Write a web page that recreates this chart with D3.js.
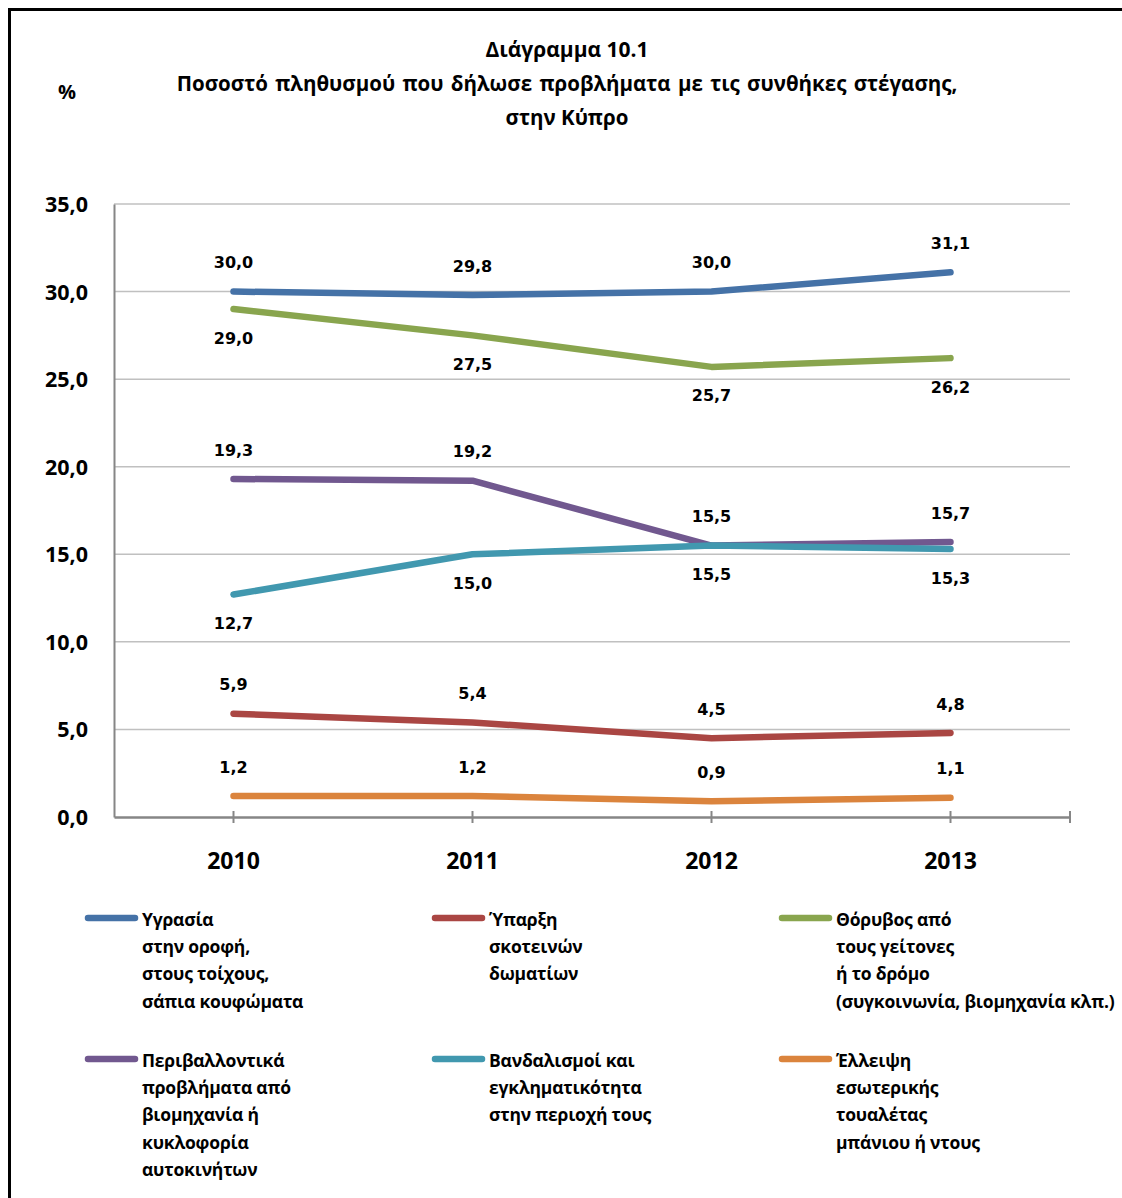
<!DOCTYPE html>
<html>
<head>
<meta charset="utf-8">
<script src="https://cdn.jsdelivr.net/npm/d3@7"></script>
<style>
  body { margin: 0; background: #fff; }
  text { font-family: "Open Sans", "Noto Sans", sans-serif; font-weight: bold; fill: #000; }
  .val { font-family: "DejaVu Sans", Verdana, sans-serif; font-size: 16px; }
</style>
</head>
<body>
<script>
// data
var years = ["2010", "2011", "2012", "2013"];
var yTicks = [0, 5, 10, 15, 20, 25, 30, 35];

var dampness   = [30.0, 29.8, 30.0, 31.1];
var darkRooms  = [5.9, 5.4, 4.5, 4.8];
var noise      = [29.0, 27.5, 25.7, 26.2];
var pollution  = [19.3, 19.2, 15.5, 15.7];
var crime      = [12.7, 15.0, 15.5, 15.3];
var noToilet   = [1.2, 1.2, 0.9, 1.1];

var seriesNames = [
  ["Υγρασία", "στην οροφή,", "στους τοίχους,", "σάπια κουφώματα"],
  ["Ύπαρξη", "σκοτεινών", "δωματίων"],
  ["Θόρυβος από", "τους γείτονες", "ή το δρόμο", "(συγκοινωνία, βιομηχανία κλπ.)"],
  ["Περιβαλλοντικά", "προβλήματα από", "βιομηχανία ή", "κυκλοφορία", "αυτοκινήτων"],
  ["Βανδαλισμοί και", "εγκληματικότητα", "στην περιοχή τους"],
  ["Έλλειψη", "εσωτερικής", "τουαλέτας", "μπάνιου ή ντους"]
];
var seriesValues = [dampness, darkRooms, noise, pollution, crime, noToilet];
var seriesColors = ["#4572a7", "#aa4643", "#89a54e", "#71588f", "#4198af", "#db843d"];
// label above (-1) or below (+1) the line
var labelSide = [-1, -1, 1, -1, 1, -1];

var W = 1122, H = 1198;
var svg = d3.select("body").append("svg")
    .attr("width", W)
    .attr("height", H);

// outer frame
svg.append("rect")
    .attr("x", 9.5).attr("y", 9.5)
    .attr("width", W + 10).attr("height", H + 10)
    .attr("fill", "none")
    .attr("stroke", "#000")
    .attr("stroke-width", 3);

// titles
svg.append("text").attr("x", 567).attr("y", 57).attr("text-anchor", "middle")
    .style("font-size", "21px").text("Διάγραμμα 10.1");
svg.append("text").attr("x", 567).attr("y", 91).attr("text-anchor", "middle")
    .style("font-size", "20.5px").style("word-spacing", "2px")
    .text("Ποσοστό πληθυσμού που δήλωσε προβλήματα με τις συνθήκες στέγασης,");
svg.append("text").attr("x", 567).attr("y", 125).attr("text-anchor", "middle")
    .style("font-size", "20.5px").text("στην Κύπρο");
svg.append("text").attr("x", 67).attr("y", 99).attr("text-anchor", "middle")
    .style("font-size", "20px").text("%");

var plot = {left: 114, right: 1070, top: 204, bottom: 817};

var x = d3.scaleBand().domain(years).range([plot.left, plot.right]);
var y = d3.scaleLinear().domain([0, 35]).range([plot.bottom, plot.top]);
var cx = function(d) { return x(d) + x.bandwidth() / 2; };

// gridlines
svg.append("g").selectAll("line")
    .data(yTicks.slice(1))
  .enter().append("line")
    .attr("x1", plot.left).attr("x2", plot.right)
    .attr("y1", function(d) { return y(d); })
    .attr("y2", function(d) { return y(d); })
    .attr("stroke", "#c0c0c0")
    .attr("stroke-width", 1.5);

// y axis
var yAxis = svg.append("g")
    .attr("transform", "translate(" + plot.left + ",0)")
    .call(d3.axisLeft(y).tickValues(yTicks).tickSize(0).tickPadding(26)
      .tickFormat(function(d) { return d3.format(".1f")(d).replace(".", ","); }));
yAxis.select(".domain").attr("stroke", "#868686").attr("stroke-width", 2);
yAxis.selectAll("text").style("font-size", "21.5px").attr("dy", "0.35em")
    .style("font-family", "'Open Sans', sans-serif");

// x axis
var xAxis = svg.append("g")
    .attr("transform", "translate(0," + plot.bottom + ")")
    .call(d3.axisBottom(x).tickSize(0).tickPadding(36));
xAxis.select(".domain").attr("stroke", "#868686").attr("stroke-width", 2.5);
xAxis.selectAll("text").style("font-size", "23px");
xAxis.selectAll("line.mk")
    .data(years.map(cx).concat([plot.right]))
  .enter().append("line")
    .attr("class", "mk")
    .attr("x1", function(d) { return d; }).attr("x2", function(d) { return d; })
    .attr("y1", -6).attr("y2", 6)
    .attr("stroke", "#868686").attr("stroke-width", 2);

// series lines
var line = d3.line()
    .x(function(d, i) { return cx(years[i]); })
    .y(function(d) { return y(d); });

seriesValues.forEach(function(vals, s) {
  svg.append("path")
      .datum(vals)
      .attr("d", line)
      .attr("fill", "none")
      .attr("stroke", seriesColors[s])
      .attr("stroke-width", 6.5)
      .attr("stroke-linecap", "round")
      .attr("stroke-linejoin", "round");
});

// value labels
seriesValues.forEach(function(vals, s) {
  svg.append("g").selectAll("text")
      .data(vals)
    .enter().append("text")
      .attr("class", "val")
      .attr("text-anchor", "middle")
      .attr("x", function(d, i) { return cx(years[i]); })
      .attr("y", function(d) { return y(d) + labelSide[s] * 29; })
      .attr("dy", "0.35em")
      .text(function(d) { return d3.format(".1f")(d).replace(".", ","); });
});

// legend
var legendCols = [85, 432, 779];
var legendRows = [918, 1059];
seriesNames.forEach(function(lines, s) {
  var lx = legendCols[s % 3], ly = legendRows[Math.floor(s / 3)];
  var g = svg.append("g").attr("transform", "translate(" + lx + "," + ly + ")");
  g.append("line")
      .attr("x1", 3).attr("x2", 50)
      .attr("y1", 0).attr("y2", 0)
      .attr("stroke", seriesColors[s])
      .attr("stroke-width", 6.5)
      .attr("stroke-linecap", "round");
  g.selectAll("text")
      .data(lines)
    .enter().append("text")
      .attr("x", 57)
      .attr("y", function(d, i) { return 8 + i * 27.2; })
      .style("font-size", "17.5px")
      .style("letter-spacing", "-0.2px")
      .text(function(d) { return d; });
});
</script>
</body>
</html>
